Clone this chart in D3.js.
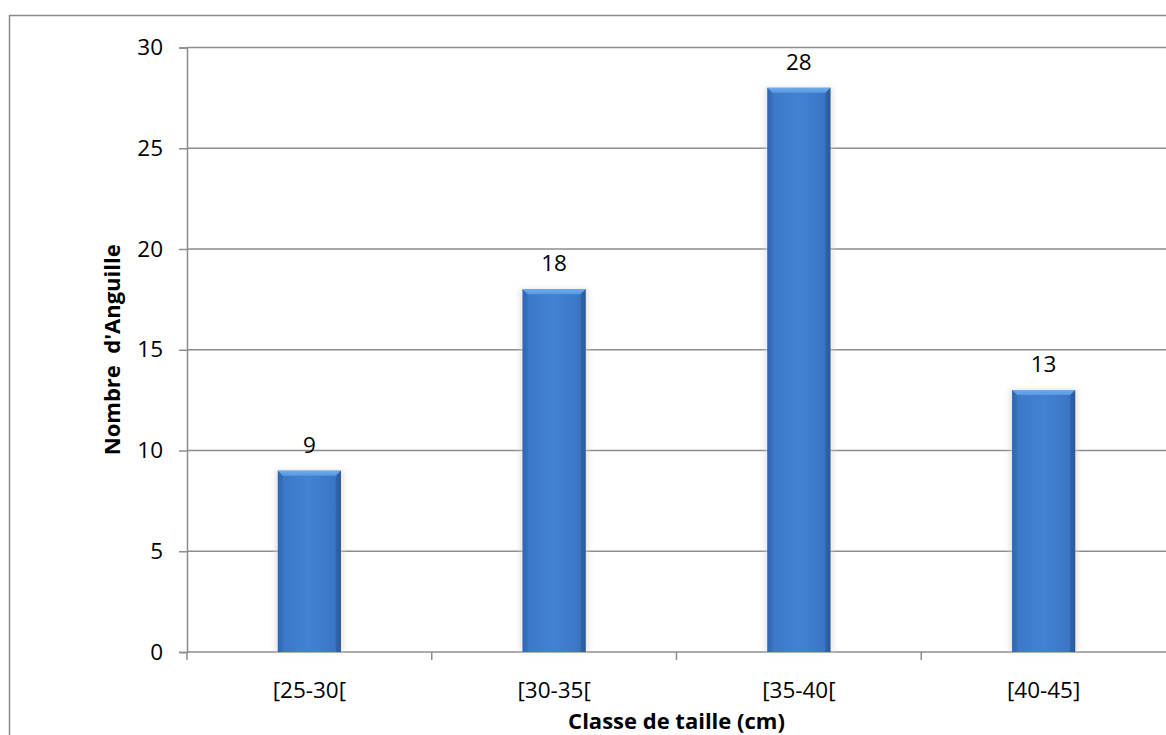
<!DOCTYPE html>
<html>
<head>
<meta charset="utf-8">
<script src="https://cdn.jsdelivr.net/npm/d3@7"></script>
<style>
  html, body { margin: 0; padding: 0; background: #fff; }
  svg { display: block; font-family: "Open Sans", "Noto Sans", sans-serif; }
</style>
</head>
<body>
<svg id="chart" width="1166" height="735"></svg>
<script>
// Eel counts per size class
const categories = ["[25-30[", "[30-35[", "[35-40[", "[40-45]"];
const counts = [9, 18, 28, 13];
const yTicks = [0, 5, 10, 15, 20, 25, 30];

const svg = d3.select("#chart");
const W = 1166, H = 735;
const m = { left: 187, right: 0, top: 47.5, bottom: 83 };
const plotW = W - m.left - m.right;
const plotH = H - m.top - m.bottom;
const FONT = "'Open Sans', 'Noto Sans', sans-serif";
const FS = 22.5;

// Outer chart frame
svg.append("rect")
  .attr("x", 9.5).attr("y", 15.5)
  .attr("width", W + 20).attr("height", H + 20)
  .attr("fill", "#fff").attr("stroke", "#8a8a8a").attr("stroke-width", 1.5);

const x = d3.scaleBand().domain(categories).range([m.left, m.left + plotW]).paddingInner(0).paddingOuter(0);
const y = d3.scaleLinear().domain([0, 30]).range([m.top + plotH, m.top]);

// Gradients for the bevelled bars
const defs = svg.append("defs");
const gH = defs.append("linearGradient").attr("id", "barH").attr("x1", 0).attr("x2", 1).attr("y1", 0).attr("y2", 0);
[[0, "#3469b4"], [0.1, "#3d78c8"], [0.5, "#4282d3"], [0.9, "#3b76c5"], [1, "#2f61a8"]]
  .forEach(([o, c]) => gH.append("stop").attr("offset", o).attr("stop-color", c));
const gTop = defs.append("linearGradient").attr("id", "barTop").attr("x1", 0).attr("x2", 0).attr("y1", 0).attr("y2", 1);
[[0, "#6eaaea"], [1, "#559ae2"]].forEach(([o, c]) => gTop.append("stop").attr("offset", o).attr("stop-color", c));
const shadow = defs.append("filter").attr("id", "soft").attr("x", "-30%").attr("y", "-10%").attr("width", "160%").attr("height", "120%");
shadow.append("feGaussianBlur").attr("stdDeviation", 2.5);

// Horizontal gridlines
svg.append("g").selectAll("line").data(yTicks).join("line")
  .attr("x1", m.left).attr("x2", m.left + plotW)
  .attr("y1", d => y(d)).attr("y2", d => y(d))
  .attr("stroke", "#8c8c8c").attr("stroke-width", 1.5);

// Y axis
const yAxis = svg.append("g").attr("transform", `translate(${m.left},0)`)
  .call(d3.axisLeft(y).tickValues(yTicks).tickSize(8).tickPadding(16));
yAxis.attr("font-size", null).attr("font-family", null);
yAxis.select(".domain").attr("stroke", "#8c8c8c").attr("stroke-width", 1.5);
yAxis.selectAll(".tick line").attr("stroke", "#8c8c8c").attr("stroke-width", 1.5);
yAxis.selectAll(".tick text").attr("font-size", FS).attr("fill", "#000").attr("font-family", FONT);

// X axis
const xAxis = svg.append("g").attr("transform", `translate(0,${y(0)})`)
  .call(d3.axisBottom(x).tickSize(0));
xAxis.attr("font-size", null).attr("font-family", null);
xAxis.select(".domain").remove();
xAxis.selectAll(".tick text").attr("font-size", FS).attr("fill", "#000").attr("font-family", FONT)
  .attr("y", 46).attr("dy", 0);
// tick marks at band boundaries
svg.append("g").selectAll("line").data(categories).join("line")
  .attr("x1", d => x(d)).attr("x2", d => x(d))
  .attr("y1", y(0)).attr("y2", y(0) + 8)
  .attr("stroke", "#8c8c8c").attr("stroke-width", 1.5);

// Bars
const bw = x.bandwidth() * 0.258;
const bev = 5;
const bars = svg.append("g").selectAll("g").data(categories.map((c, i) => ({ c, v: counts[i] }))).join("g")
  .attr("transform", d => `translate(${x(d.c) + x.bandwidth() / 2 - bw / 2},${y(d.v)})`);
bars.append("rect")
  .attr("x", -3).attr("y", -1).attr("width", bw + 6).attr("height", d => y(0) - y(d.v) + 1)
  .attr("fill", "#d4d4d4").attr("opacity", 0.55).attr("filter", "url(#soft)");
bars.append("rect")
  .attr("width", bw).attr("height", d => y(0) - y(d.v))
  .attr("fill", "url(#barH)");
// bevelled top and sides
bars.append("path")
  .attr("d", `M0,0 L${bw},0 L${bw - bev},${bev} L${bev},${bev} Z`)
  .attr("fill", "url(#barTop)");
bars.append("path")
  .attr("d", d => `M0,0 L${bev},${bev} L${bev},${y(0) - y(d.v)} L0,${y(0) - y(d.v)} Z`)
  .attr("fill", "#2f63ad").attr("opacity", 0.35);
bars.append("path")
  .attr("d", d => `M${bw},0 L${bw - bev},${bev} L${bw - bev},${y(0) - y(d.v)} L${bw},${y(0) - y(d.v)} Z`)
  .attr("fill", "#24508f").attr("opacity", 0.4);

// Value labels
bars.append("text")
  .attr("x", bw / 2).attr("y", -18)
  .attr("text-anchor", "middle").attr("font-size", FS).attr("fill", "#000")
  .text(d => d.v);

// Axis titles
svg.append("text")
  .attr("x", m.left + plotW / 2).attr("y", 729)
  .attr("text-anchor", "middle").attr("font-size", 22).attr("font-weight", "bold")
  .text("Classe de taille (cm)");
svg.append("text")
  .attr("transform", `translate(120,${(y(0) + y(30)) / 2}) rotate(-90)`)
  .attr("text-anchor", "middle").attr("font-size", 22).attr("font-weight", "bold")
  .attr("xml:space", "preserve").style("white-space", "pre")
  .text("Nombre  d'Anguille");
</script>
</body>
</html>
